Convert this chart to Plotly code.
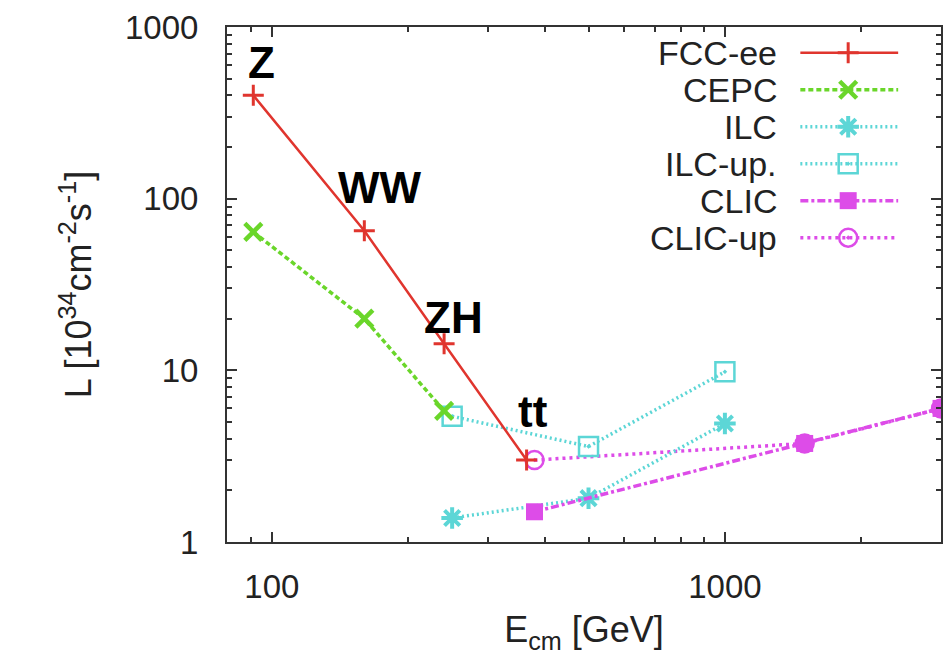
import math
import plotly.graph_objects as go

# ---- data ----
names = ["FCC-ee", "CEPC", "ILC", "ILC-up.", "CLIC", "CLIC-up"]
fcc_x = [91, 160, 240, 365]
fcc_y = [400, 65, 14.3, 3.0]
cepc_x = [91, 160, 240]
cepc_y = [64, 20, 5.8]
ilc_x = [250, 500, 1000]
ilc_y = [1.38, 1.8, 4.9]
ilcup_x = [250, 500, 1000]
ilcup_y = [5.4, 3.6, 9.8]
clic_x = [380, 1500, 3000]
clic_y = [1.5, 3.75, 6.0]
clicup_x = [380, 1500, 3000]
clicup_y = [3.0, 3.75, 6.0]
stage_labels = ["Z", "WW", "ZH", "tt"]
stage_shift_x = [8, 16, 9, 6]
stage_shift_y = [33, 43, 26, 49]

xs = [fcc_x, cepc_x, ilc_x, ilcup_x, clic_x, clicup_x]
ys = [fcc_y, cepc_y, ilc_y, ilcup_y, clic_y, clicup_y]

colors = ["#e0352e", "#6ad62a", "#5cd6d6", "#5cd6d6", "#dd4ce8", "#dd4ce8"]
dashes = ["solid", "5px,3px", "2px,3px", "2px,3px", "8px,3px,3px,3px", "3px,4px"]
widths = [2.5, 3.5, 3.5, 3.5, 3.5, 3.5]
symbols = ["cross-thin-open", "x-thin-open", "asterisk-open", "square-open-dot",
           "square", "circle-open-dot"]
msizes = [15, 17, 18, 19, 17, 18]
mlw = [3, 4.5, 4, 2.5, 0, 2.5]
draw_order = [5, 3, 2, 1, 0, 4]

fig = go.Figure()
for i in draw_order:
    fig.add_trace(go.Scatter(
        x=xs[i], y=ys[i], mode="lines+markers", name=names[i],
        line=dict(color=colors[i], width=widths[i], dash=dashes[i]),
        marker=dict(symbol=symbols[i], size=msizes[i], color=colors[i],
                    line=dict(color=colors[i], width=mlw[i])),
        showlegend=False,
    ))

# custom legend (text left, sample right, gnuplot style)
row0 = 0.950
rowstep = 0.0718
for i in range(len(names)):
    yy = row0 - i * rowstep
    fig.add_trace(go.Scatter(
        x=[0.803, 0.940], y=[yy, yy], mode="lines", xaxis="x2", yaxis="y2",
        line=dict(color=colors[i], width=widths[i], dash=dashes[i]),
        showlegend=False, hoverinfo="skip"))
    fig.add_trace(go.Scatter(
        x=[0.870], y=[yy], mode="markers", xaxis="x2", yaxis="y2",
        marker=dict(symbol=symbols[i], size=msizes[i], color=colors[i],
                    line=dict(color=colors[i], width=mlw[i])),
        showlegend=False, hoverinfo="skip"))
    fig.add_annotation(x=0.773, y=yy, xref="paper", yref="paper", text=names[i],
                       showarrow=False, xanchor="right", yanchor="middle",
                       font=dict(family="Liberation Sans, Arial", size=34, color="#222"))

# stage labels
for i, lab in enumerate(stage_labels):
    fig.add_annotation(x=math.log10(fcc_x[i]), y=math.log10(fcc_y[i]), text="<b>%s</b>" % lab,
                       showarrow=False, xshift=stage_shift_x[i], yshift=stage_shift_y[i],
                       font=dict(family="Liberation Sans, Arial", size=44, color="#000"))

axis_common = dict(
    type="log", showgrid=False, zeroline=False, showline=True, linecolor="#333",
    linewidth=2, mirror="allticks", ticks="inside", ticklen=10, tickwidth=1.5,
    tickcolor="#333",
    tickfont=dict(family="Liberation Sans, Arial", size=33, color="#222"),
)

fig.update_layout(
    width=949, height=655, autosize=False,
    margin=dict(l=227, r=6, t=27, b=113),
    plot_bgcolor="white", paper_bgcolor="white",
    xaxis=dict(**axis_common, range=[1.901, 3.477],
               tickvals=[100, 1000], ticktext=["100", "1000"],
               minor=dict(tickvals=[80, 90, 200, 300, 400, 500, 600, 700, 800, 900, 2000, 3000],
                          ticks="inside", ticklen=5, tickcolor="#333"),
               ticklabelstandoff=14,
               title=dict(text="E<sub>cm</sub> [GeV]", standoff=14,
                          font=dict(family="Liberation Sans, Arial", size=36, color="#222"))),
    yaxis=dict(**axis_common, range=[0, 3],
               tickvals=[1, 10, 100, 1000], ticktext=["1", "10", "100", "1000"],
               minor=dict(tickvals=[2, 3, 4, 5, 6, 7, 8, 9, 20, 30, 40, 50, 60, 70, 80, 90,
                                    200, 300, 400, 500, 600, 700, 800, 900],
                          ticks="inside", ticklen=5, tickcolor="#333"),
               ticklabelstandoff=20,
               title=dict(text="L [10<sup>34</sup>cm<sup>-2</sup>s<sup>-1</sup>]", standoff=22,
                          font=dict(family="Liberation Sans, Arial", size=36, color="#222"))),
    xaxis2=dict(overlaying="x", range=[0, 1], visible=False, domain=[0, 1]),
    yaxis2=dict(overlaying="y", range=[0, 1], visible=False, domain=[0, 1]),
)

fig.write_html("out.html")
